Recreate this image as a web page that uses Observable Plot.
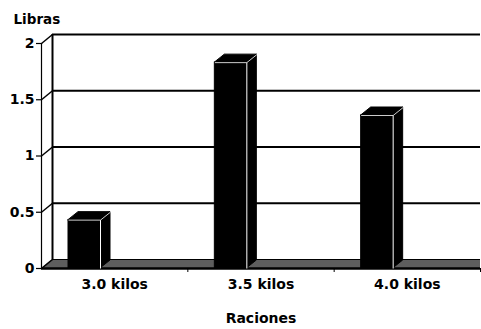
<!DOCTYPE html>
<html>
<head>
<meta charset="utf-8">
<script src="https://cdn.jsdelivr.net/npm/d3@7"></script>
<script src="https://cdn.jsdelivr.net/npm/@observablehq/plot@0.6"></script>
<style>
  html, body { margin: 0; padding: 0; background: #fff; }
  svg { display: block; }
</style>
</head>
<body>
<div id="chart"></div>
<script>
// Data
const categories = ["3.0 kilos", "3.5 kilos", "4.0 kilos"];
const values = [0.43, 1.83, 1.36];
const yTicks = [0, 0.5, 1, 1.5, 2];
const yTitle = "Libras";
const xTitle = "Raciones";

// Layout
const W = 481, H = 329;
const mL = 41, mR = 1, mT = 43, mB = 61;
const pxPerX = (W - mL - mR) / categories.length;
const pxPerY = (H - mT - mB) / 2;
// 3D depths (pixels -> data units)
const wallDx = 11 / pxPerX, wallDy = 9 / pxPerY;
const barDx = 10 / pxPerX, barDy = 8 / pxPerY;
const barStart = 27 / pxPerX, barWidth = 32 / pxPerX;
const xMax = categories.length;

const bars = categories.map((c, i) => ({
  c, v: values[i], x1: i + barStart, x2: i + barStart + barWidth
}));
const sidePts = bars.flatMap(b => [
  {c: b.c, x: b.x2, y1: 0, y2: b.v},
  {c: b.c, x: b.x2 + barDx, y1: barDy, y2: b.v + barDy}
]);
const topPts = bars.flatMap(b => [
  {c: b.c, y: b.v, x1: b.x1, x2: b.x2},
  {c: b.c, y: b.v + barDy, x1: b.x1 + barDx, x2: b.x2 + barDx}
]);
const floorPts = [
  {y: 0, x1: 0, x2: xMax},
  {y: wallDy, x1: wallDx, x2: xMax}
];

const font = "'DejaVu Sans', Verdana, sans-serif";

const chart = Plot.plot({
  width: W, height: H,
  marginLeft: mL, marginRight: mR, marginTop: mT, marginBottom: mB,
  style: {fontFamily: font, fontWeight: "bold", fontSize: "14px", color: "#000", background: "#fff"},
  x: {type: "linear", domain: [0, xMax], axis: null},
  y: {domain: [0, 2], axis: null},
  marks: [
    // floor
    Plot.areaX(floorPts, {y: "y", x1: "x1", x2: "x2", fill: "#5e5e5e"}),
    Plot.ruleY([wallDy], {x1: wallDx, x2: xMax, stroke: "#000", strokeWidth: 1}),
    // back gridlines
    Plot.ruleY(yTicks.filter(t => t > 0), {y: d => d + wallDy, x1: wallDx, x2: xMax, stroke: "#000", strokeWidth: 2}),
    // back wall edge
    Plot.ruleX([wallDx], {y1: wallDy, y2: 2 + wallDy, stroke: "#000", strokeWidth: 2}),
    // left wall diagonals
    Plot.link(yTicks, {x1: 0, y1: d => d, x2: wallDx, y2: d => d + wallDy, stroke: "#000", strokeWidth: 1.5}),
    // front axis lines
    Plot.ruleX([0], {y1: 0, y2: 2, stroke: "#000", strokeWidth: 1.2}),
    Plot.ruleY([0], {x1: 0, x2: xMax, stroke: "#000", strokeWidth: 2.5}),
    // y axis
    Plot.axisY({ticks: yTicks, tickSize: 5, tickPadding: 2, tickFormat: d => String(d), strokeWidth: 1.2, fontSize: 14}),
    // x ticks at band boundaries
    Plot.axisX({ticks: d3.range(1, xMax + 1), tickSize: 4, tickFormat: () => "", label: null}),
    // bars: side, top, front
    Plot.areaY(sidePts, {x: "x", y1: "y1", y2: "y2", z: "c", fill: "#000", stroke: "#000", strokeWidth: 1}),
    Plot.areaX(topPts, {y: "y", x1: "x1", x2: "x2", z: "c", fill: "#000", stroke: "#000", strokeWidth: 1}),
    Plot.rectY(bars, {x1: "x1", x2: "x2", y1: 0, y2: "v", fill: "#000", stroke: "#000", strokeWidth: 1}),
    // white edges
    Plot.link(bars, {x1: "x2", x2: "x2", y1: 0, y2: "v", stroke: "#fff", strokeWidth: 1}),
    Plot.link(bars, {x1: "x1", x2: "x2", y1: "v", y2: "v", stroke: "#fff", strokeWidth: 0.8}),
    Plot.link(bars, {x1: "x2", x2: d => d.x2 + barDx, y1: "v", y2: d => d.v + barDy, stroke: "#fff", strokeWidth: 0.8}),
    // category labels
    Plot.text(categories, {x: (d, i) => i + 0.5, frameAnchor: "bottom", dy: 20, text: d => d, fontSize: 14, fontWeight: "bold"}),
    // titles
    Plot.text([xTitle], {frameAnchor: "bottom", dy: 54, text: d => d, fontSize: 14, fontWeight: "bold"}),
    Plot.text([yTitle], {frameAnchor: "top-left", dx: -28, dy: -29, textAnchor: "start", text: d => d, fontSize: 13.5, fontWeight: "bold"})
  ]
});
document.getElementById("chart").appendChild(chart);
</script>
</body>
</html>
